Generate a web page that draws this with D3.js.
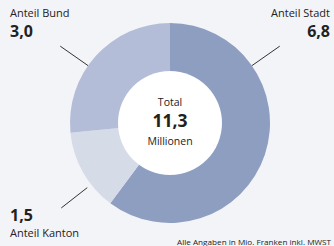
<!DOCTYPE html>
<html><head><meta charset="utf-8">
<script src="https://cdn.jsdelivr.net/npm/d3@7"></script>
<style>
html,body{margin:0;padding:0;background:#f3f4f7;}
svg{display:block;font-family:"Open Sans","Noto Sans",sans-serif;}
</style></head>
<body><svg id="c" width="334" height="246"></svg>
<script>
const categories = ["Anteil Stadt", "Anteil Kanton", "Anteil Bund"];
const values = [6.8, 1.5, 3.0];
const valueLabels = ["6,8", "1,5", "3,0"];
const colors = ["#8d9ec0", "#d6dbe8", "#b4bdd7"];
const totalLabel = "11,3";
const footnote = "Alle Angaben in Mio. Franken inkl. MWST";

const svg = d3.select("#c");
const cx = 170, cy = 123, rOuter = 100, rInner = 52;

const pie = d3.pie().sort(null).value(d => d);
const arcs = pie(values);
const arc = d3.arc().innerRadius(0).outerRadius(rOuter);

const g = svg.append("g").attr("transform", `translate(${cx},${cy})`);
g.selectAll("path").data(arcs).join("path")
  .attr("d", arc).attr("fill", (d, i) => colors[i]);
g.append("circle").attr("r", rInner).attr("fill", "#ffffff");

// center text
g.append("text").attr("text-anchor", "middle").attr("y", -17)
  .attr("font-size", 10.5).attr("fill", "#222").text("Total");
g.append("text").attr("text-anchor", "middle").attr("y", 4)
  .attr("font-size", 17.5).attr("font-weight", 700).attr("fill", "#222").text(totalLabel);
g.append("text").attr("text-anchor", "middle").attr("y", 22)
  .attr("font-size", 10.5).attr("fill", "#222").text("Millionen");

// leader lines
const leaders = [
  {a: 55, r0: 100, r1: 134},
  {a: 232, r0: 105, r1: 138},
  {a: 305, r0: 100, r1: 134}
];
leaders.forEach(l => {
  const rad = l.a * Math.PI / 180;
  const p0 = d3.pointRadial(rad, l.r0), p1 = d3.pointRadial(rad, l.r1);
  g.append("line").attr("x1", p0[0]).attr("y1", p0[1]).attr("x2", p1[0]).attr("y2", p1[1])
    .attr("stroke", "#333").attr("stroke-width", 1);
});

// labels
const lab = [
  {i: 0, x: 330, anchor: "end", ny: 17, vy: 37},
  {i: 1, x: 10, anchor: "start", ny: 237, vy: 221},
  {i: 2, x: 10, anchor: "start", ny: 17, vy: 37}
];
lab.forEach(l => {
  svg.append("text").attr("x", l.x).attr("y", l.ny).attr("text-anchor", l.anchor)
    .attr("font-size", 11).attr("fill", "#222").text(categories[l.i]);
  svg.append("text").attr("x", l.x).attr("y", l.vy).attr("text-anchor", l.anchor)
    .attr("font-size", 16).attr("font-weight", 700).attr("fill", "#222").text(valueLabels[l.i]);
});

svg.append("text").attr("x", 331).attr("y", 245).attr("text-anchor", "end")
  .attr("font-size", 8).attr("textLength", 154).attr("lengthAdjust", "spacingAndGlyphs")
  .attr("fill", "#222").text(footnote);
</script></body></html>
